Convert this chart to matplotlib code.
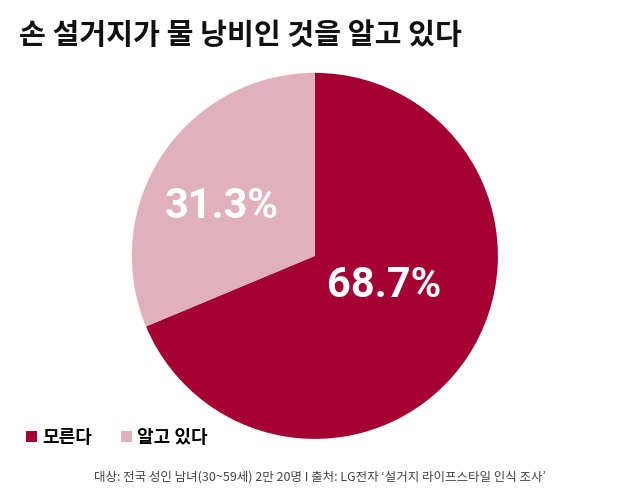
import matplotlib
matplotlib.use("Agg")
import matplotlib.pyplot as plt

plt.rcParams['font.family'] = ['Noto Sans CJK KR', 'DejaVu Sans']

labels = ['모른다', '알고 있다']
values = [68.7, 31.3]
colors = ['#a50034', '#e0b0bd']

fig = plt.figure(figsize=(6.4, 4.94), dpi=100)
fig.text(0.03, 0.93, '손 설거지가 물 낭비인 것을 알고 있다', fontsize=21, fontweight='bold', color='#111111', va='center')

ax = fig.add_axes([0.492 - 0.286, 0.482 - 0.3705, 0.572, 0.741])
wedges, _ = ax.pie(values, colors=colors, startangle=90, counterclock=False)
ax.set_xlim(-1, 1)
ax.set_ylim(-1, 1)
ax.set_aspect('equal')
ax.text(0.38, -0.16, f'{values[0]}%', fontsize=30, fontweight='bold', color='white', ha='center', va='center', family='Roboto')
ax.text(-0.51, 0.27, f'{values[1]}%', fontsize=30, fontweight='bold', color='white', ha='center', va='center', family='Roboto')

fig.legend(wedges, labels, loc='center left', bbox_to_anchor=(0.015, 0.115), ncol=2, frameon=False,
           prop={'size': 13, 'weight': 'bold'}, handlelength=0.6, handleheight=0.6, handletextpad=0.3, columnspacing=1.6)

fig.text(0.5, 0.035, '대상: 전국 성인 남녀(30~59세) 2만 20명 I 출처: LG전자 ‘설거지 라이프스타일 인식 조사’',
         fontsize=9, fontweight='medium', color='#444444', ha='center', va='center')
fig.savefig('out.png', dpi=100)
